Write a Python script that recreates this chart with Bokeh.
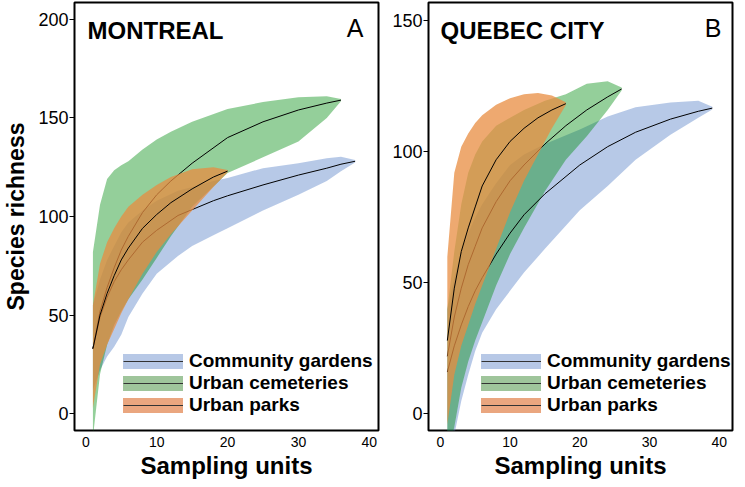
from bokeh.plotting import figure
from bokeh.models import Range1d, Label, Legend, LegendItem, FixedTicker
from bokeh.layouts import row
from bokeh.embed import file_html
from bokeh.resources import INLINE

FONT = "Liberation Sans"
NAN = float("nan")

# ---------------- data ----------------
habitats = ["Community gardens", "Urban cemeteries", "Urban parks"]

# Montreal
mtl_gardens_x = [1, 2, 3, 4, 5, 6, 8, 10, 13, 15, 18, 20, 25, 30, 34, 36, 38]
mtl_gardens_mid = [33, 49, 59, 67, 73, 78, 87, 93, 100.5, 103.5, 108, 110.5, 116, 121, 124.5, 126.5, 128]
mtl_gardens_hi = [55, 68, 78, 85, 92, 97, 103, 108, 113, 115, 118, 119.5, 124.5, 127, 129.5, 130.3, 128.6]
mtl_gardens_lo = [12, 22, 29, 34, 40, 49, 61, 71, 80, 85, 90.5, 94, 103, 111, 118, 123, 127.4]

mtl_cemeteries_x = [1, 2, 3, 4, 5, 6, 8, 10, 12, 15, 20, 25, 30, 34, 36]
mtl_cemeteries_mid = [33, 52, 64, 74, 83, 90, 102, 111, 118, 127, 140, 148, 154, 157.5, 159]
mtl_cemeteries_hi = [82, 106, 119, 123.5, 126, 128, 134, 139, 143, 148, 154.5, 158, 160.5, 161, 159.6]
mtl_cemeteries_lo = [-12, 20, 35, 45, 52, 58, 68, 79, 90, 105, 122, 130, 138, 150, 158.4]

mtl_parks_x = [1, 2, 3, 4, 5, 6, 8, 10, 12, 15, 18, 20]
mtl_parks_mid = [33, 50, 61, 70, 78, 84, 94, 101, 107, 114, 120, 123]
mtl_parks_hi = [55, 76, 87, 94, 100, 105, 111, 116, 120, 124, 125, 123.6]
mtl_parks_lo = [3, 25, 35, 43, 51, 58, 71, 82, 91, 103, 115, 122.4]

# Quebec City
qc_gardens_x = [1, 2, 3, 4, 5, 6, 8, 10, 12, 15, 20, 24, 28, 33, 37, 39]
qc_gardens_mid = [16, 26, 34, 41, 47, 52, 61, 69, 76, 84, 95, 102, 107.5, 112.5, 115.5, 116.7]
qc_gardens_hi = [40, 52, 62, 69, 75, 80, 88, 95, 99, 103, 108.5, 113.5, 117, 118.8, 119.5, 117.2]
qc_gardens_lo = [-20, -8, 5, 15, 24, 31, 40, 47, 54, 63, 77.7, 87, 97, 106.5, 113, 116.2]

qc_cemeteries_x = [1, 2, 3, 4, 5, 6, 8, 10, 12, 15, 18, 21, 24, 26]
qc_cemeteries_mid = [22, 37, 48, 57, 64, 71, 81, 89, 95, 103, 110, 116, 121, 124]
qc_cemeteries_hi = [40, 62, 80, 92, 99, 104, 110, 113, 116, 119.5, 122, 126, 127, 124.6]
qc_cemeteries_lo = [-15, -5, 10, 20, 28, 35, 49, 61, 71, 85, 97, 106, 116, 123.4]

qc_parks_x = [1, 2, 3, 4, 5, 6, 8, 10, 12, 14, 16, 18]
qc_parks_mid = [28, 48, 62, 71, 79, 87, 97, 104, 109, 113, 116, 118.4]
qc_parks_hi = [60, 92, 102, 107, 111, 114, 118, 120.5, 122, 122.5, 121.5, 118.9]
qc_parks_lo = [-4, 15, 26, 34, 42, 49, 63, 77, 89, 99, 109, 117.9]

x_ticks = [0, 10, 20, 30, 40]
mtl_y_ticks = [0, 50, 100, 150, 200]
qc_y_ticks = [0, 50, 100, 150]

# ---------------- styling ----------------
band_colors = ["#5f87ca", "#008d0e", "#e88c40"]
band_alphas = [0.45, 0.42, 0.75]
legend_colors = ["#b7c8e6", "#9fc59b", "#eaa67f"]

FRAME_W = 304
FRAME_H = 428


def make_panel(series, xr, yr, yticks, border_left, border_right,
               city, letter, ylabel, legend_loc, title_off, letter_off):
    p = figure(frame_width=FRAME_W, frame_height=FRAME_H,
               x_range=Range1d(*xr), y_range=Range1d(*yr),
               output_backend="svg", toolbar_location=None,
               min_border_left=border_left, min_border_right=border_right,
               min_border_top=2, min_border_bottom=40)
    p.grid.visible = False
    p.outline_line_color = "black"
    p.outline_line_width = 2
    p.background_fill_color = "white"
    p.border_fill_color = "white"

    (gx, gm, gh, gl), (cx, cm, ch, cl), (px_, pm, ph, pl) = series
    p.varea(x=gx, y1=gl, y2=gh, fill_color=band_colors[0], fill_alpha=band_alphas[0])
    p.varea(x=cx, y1=cl, y2=ch, fill_color=band_colors[1], fill_alpha=band_alphas[1])
    p.line(gx, gm, line_color="black", line_width=1)
    p.line(cx, cm, line_color="black", line_width=1)
    p.varea(x=px_, y1=pl, y2=ph, fill_color=band_colors[2], fill_alpha=band_alphas[2])
    p.line(px_, pm, line_color="black", line_width=1)

    xa = p.xaxis[0]
    xa.ticker = FixedTicker(ticks=x_ticks)
    xa.major_tick_out = 0
    xa.major_tick_in = 0
    xa.minor_tick_line_color = None
    xa.axis_line_color = None
    xa.major_label_text_font = FONT
    xa.major_label_text_font_size = "14px"
    xa.major_label_text_color = "black"
    xa.major_label_standoff = 6
    xa.axis_label = "Sampling units"
    xa.axis_label_text_font = FONT
    xa.axis_label_text_font_style = "bold"
    xa.axis_label_text_font_size = "24px"
    xa.axis_label_text_color = "black"
    xa.axis_label_standoff = 2

    ya = p.yaxis[0]
    ya.ticker = FixedTicker(ticks=yticks)
    ya.major_tick_out = 5
    ya.major_tick_in = 0
    ya.major_tick_line_color = "black"
    ya.minor_tick_line_color = None
    ya.axis_line_color = None
    ya.major_label_text_font = FONT
    ya.major_label_text_font_size = "18px"
    ya.major_label_text_color = "black"
    ya.major_label_standoff = 1
    if ylabel:
        ya.axis_label = ylabel
        ya.axis_label_text_font = FONT
        ya.axis_label_text_font_style = "bold"
        ya.axis_label_text_font_size = "23px"
        ya.axis_label_text_color = "black"
        ya.axis_label_standoff = 6

    p.add_layout(Label(x=xr[0], y=yr[1], x_offset=title_off[0], y_offset=title_off[1],
                       text=city, text_font=FONT, text_font_style="bold",
                       text_font_size="24px", text_color="black",
                       text_align="left", text_baseline="top"))
    p.add_layout(Label(x=xr[1], y=yr[1], x_offset=letter_off[0], y_offset=letter_off[1],
                       text=letter, text_font=FONT, text_font_style="normal",
                       text_font_size="25px", text_color="black",
                       text_align="right", text_baseline="top"))

    items = []
    for name, col in zip(habitats, legend_colors):
        fat = p.line([NAN], [NAN], line_width=15, line_cap="round", line_color=col)
        thin = p.line([NAN], [NAN], line_width=1.2, line_color="#333333")
        items.append(LegendItem(label=name, renderers=[fat, thin]))
    leg = Legend(items=items, location=legend_loc,
                 glyph_width=60, glyph_height=20, label_height=20,
                 label_standoff=6, spacing=0, padding=0, margin=0,
                 border_line_color=None, background_fill_alpha=0,
                 label_text_font=FONT, label_text_font_style="bold",
                 label_text_font_size="19px", label_text_color="black")
    p.add_layout(leg)
    return p


p1 = make_panel(
    [(mtl_gardens_x, mtl_gardens_mid, mtl_gardens_hi, mtl_gardens_lo),
     (mtl_cemeteries_x, mtl_cemeteries_mid, mtl_cemeteries_hi, mtl_cemeteries_lo),
     (mtl_parks_x, mtl_parks_mid, mtl_parks_hi, mtl_parks_lo)],
    (-1.6, 41.3), (-8.5, 208.5), mtl_y_ticks, 68, 5,
    "MONTREAL", "A", "Species richness", (49, 14), (13, -14), (-15, -11))

p2 = make_panel(
    [(qc_gardens_x, qc_gardens_mid, qc_gardens_hi, qc_gardens_lo),
     (qc_cemeteries_x, qc_cemeteries_mid, qc_cemeteries_hi, qc_cemeteries_lo),
     (qc_parks_x, qc_parks_mid, qc_parks_hi, qc_parks_lo)],
    (-1.7, 41.9), (-6.3, 157), qc_y_ticks, 45, 3,
    "QUEBEC CITY", "B", None, (53, 14), (12, -14), (-11, -11))

layout = row(p1, p2)
open("out.html", "w").write(file_html(layout, INLINE))
